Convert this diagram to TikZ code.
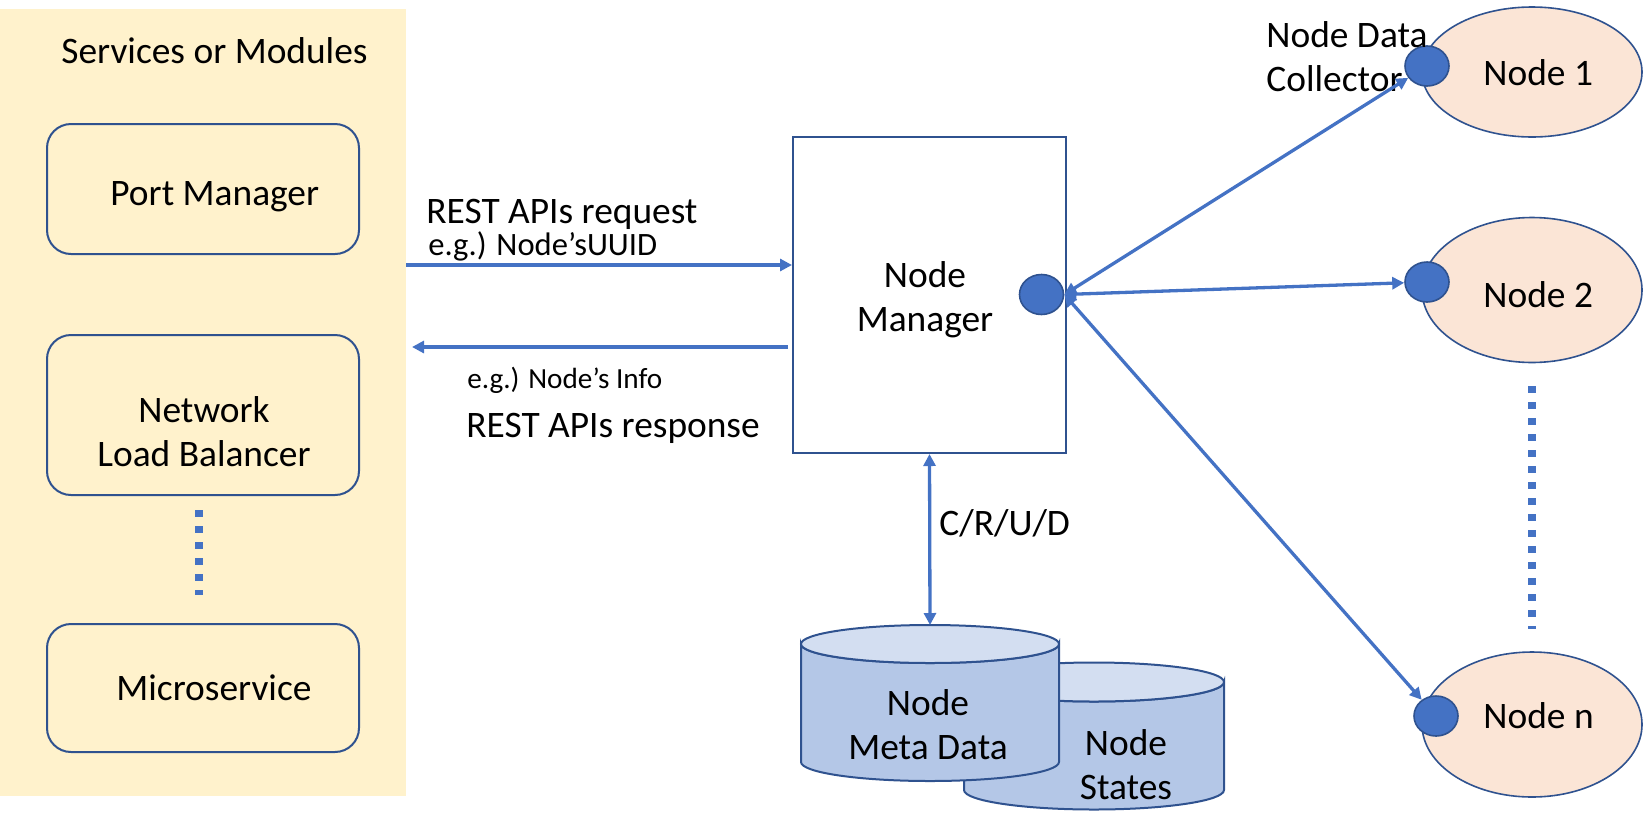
\documentclass[tikz,border=0pt]{standalone}
\usepackage{fontspec}
\setmainfont{Carlito}
\usetikzlibrary{arrows.meta,shapes.geometric}
\definecolor{panelfill}{HTML}{FFF2CC}
\definecolor{boxline}{HTML}{2F528F}
\definecolor{lineblue}{HTML}{4472C4}
\definecolor{nodefill}{HTML}{FBE5D6}
\definecolor{cylbody}{HTML}{B4C7E7}
\definecolor{cyltop}{HTML}{D3DEF1}
\begin{document}
\begin{tikzpicture}[x=0.5pt,y=-0.5pt,
  big/.style={font=\fontsize{18.7}{22}\selectfont, inner sep=0pt},
  small/.style={font=\fontsize{16.3}{19}\selectfont, inner sep=0pt},
  smaller/.style={font=\fontsize{14.6}{17}\selectfont, inner sep=0pt},
  svcbox/.style={draw=boxline, line width=1pt, rounded corners=12pt, minimum width=156pt, inner sep=0pt},
  tip/.tip={Triangle[length=6pt,width=6pt]},
  conn/.style={draw=lineblue, line width=1.65pt, -tip},
  biconn/.style={draw=lineblue, line width=1.65pt, tip-tip},
  dotline/.style={draw=lineblue, line width=4pt, dash pattern=on 3.5pt off 4.5pt},
  nodeell/.style={ellipse, draw=boxline, fill=nodefill, line width=0.8pt, minimum width=110pt, inner sep=0pt},
  port/.style={ellipse, draw=boxline, fill=lineblue, line width=0.8pt, minimum width=22pt, minimum height=20pt, inner sep=0pt},
  cylpath/.style={draw=boxline, line width=1pt},
]
\useasboundingbox (0,0) rectangle (1643,831);

% left panel
\node[fill=panelfill, minimum width=203pt, minimum height=393.5pt, inner sep=0pt] (panel) at (203,402.5) {};
\node[big, anchor=base west] (title) at (61,63) {Services or Modules};

\node[svcbox, minimum height=65pt] (pm) at (203,189) {};
\node[big, anchor=base west] (pmt) at (110,205) {Port Manager};

\node[svcbox, minimum height=80pt] (nlb) at (203,415) {};
\node[big, align=center] (nlbt) at (204,432) {Network\\Load Balancer};

\node[svcbox, minimum height=64pt] (ms) at (203,688) {};
\node[big, anchor=base west] (mst) at (116,700) {Microservice};

\draw[dotline] (199,510) -- (199,595);

% node manager
\node[draw=boxline, line width=1pt, minimum width=136.5pt, minimum height=158pt, inner sep=0pt] (nm) at (929.5,295) {};
\node[big, align=center] (nmt) at (925,300) {Node\\Manager};
\node[port] (nmdot) at (1041.5,294.5) {};

% REST arrows
\coordinate (reqstart) at (406,265);
\coordinate (respstart) at (788,347);
\coordinate (respend) at (412,347);
\draw[conn] (reqstart) -- (nm.west |- reqstart);
\draw[conn] (respstart) -- (respend);
\node[big, anchor=base west] (req) at (426,223) {REST APIs request};
\node[small, anchor=base west] (reqe) at (428,255) {e.g.) Node’sUUID};
\node[smaller, anchor=base west] (respe) at (467,388) {e.g.) Node’s Info};
\node[big, anchor=base west] (resp) at (466,437) {REST APIs response};

% cylinders
\draw[cylpath, fill=cylbody] (964,682) -- (964,790)
  arc[start angle=180, end angle=360, x radius=65pt, y radius=9.75pt] -- (1224,682)
  arc[start angle=0, end angle=-180, x radius=65pt, y radius=9.75pt] -- cycle;
\draw[cylpath, fill=cyltop] (1094,682) ellipse [x radius=65pt, y radius=9.75pt];
\node[big, align=center] (statest) at (1126,765) {Node\\States};

\draw[cylpath, fill=cylbody] (801,644) -- (801,762)
  arc[start angle=180, end angle=360, x radius=64.5pt, y radius=9.5pt] -- (1059,644)
  arc[start angle=0, end angle=-180, x radius=64.5pt, y radius=9.5pt] -- cycle;
\draw[cylpath, fill=cyltop] (930,644) ellipse [x radius=64.5pt, y radius=9.5pt];
\node[big, align=center] (metat) at (928,725) {Node\\Meta Data};
\coordinate (meta) at (930,625);

\draw[biconn] (nm.south) -- (meta);
\node[big, anchor=west] (crud) at (939,523) {C/R/U/D};

% nodes
\node[nodeell, minimum height=65pt] (n1) at (1532,72) {};
\node[nodeell, minimum height=72.5pt] (n2) at (1532,290) {};
\node[nodeell, minimum height=72.5pt] (nn) at (1532,724.5) {};
\node[big, anchor=base west] (n1t) at (1483,85) {Node 1};
\node[big, anchor=base west] (n2t) at (1483,307) {Node 2};
\node[big, anchor=base west] (nnt) at (1483,728) {Node n};

\node[port] (d1) at (1427,66) {};
\node[port] (d2) at (1427,282) {};
\node[port] (dn) at (1436,716) {};

\node[big, align=left, anchor=west] (collector) at (1266,57) {Node Data\\Collector};

\draw[dotline] (1532,386) -- (1532,629);

% node links
\draw[biconn] (nmdot.east) -- (d1);
\draw[biconn] (nmdot.east) -- (d2);
\draw[biconn] (nmdot.east) -- (dn);
\end{tikzpicture}
\end{document}
